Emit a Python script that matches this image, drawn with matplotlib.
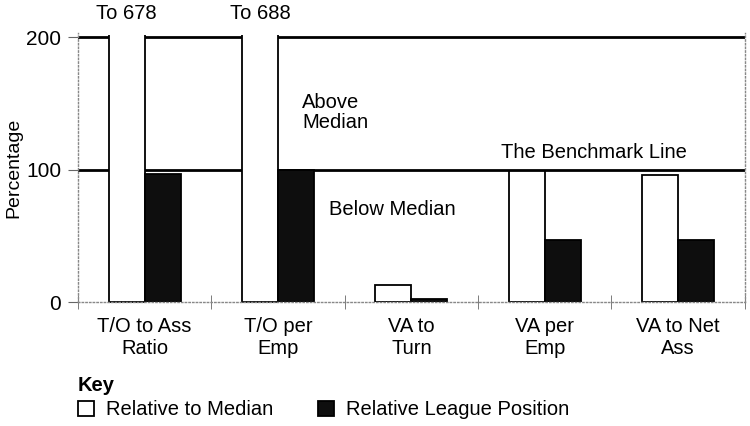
import matplotlib.pyplot as plt
from matplotlib.patches import Rectangle
import numpy as np

plt.rcParams['font.family'] = ['Liberation Sans', 'DejaVu Sans']

categories = ['T/O to Ass\nRatio', 'T/O per\nEmp', 'VA to\nTurn', 'VA per\nEmp', 'VA to Net\nAss']
rel_median = [678, 688, 13, 99, 96]
rel_league = [97, 100, 2, 47, 47]
y_ticks = [0, 100, 200]
y_top = 200

fig = plt.figure(figsize=(7.5, 4.26), dpi=100)
ax = fig.add_axes([0.104, 0.291, 0.889, 0.631])

x = np.arange(len(categories))
w = 0.27

# reference lines sit under the bars so tall white bars break them
ax.axhline(200, color='black', lw=2, zorder=1)
ax.axhline(100, color='black', lw=2, zorder=1)

b1 = ax.bar(x - w, rel_median, width=w, align='edge', color='white',
            edgecolor='black', lw=1.3, zorder=2, label='Relative to Median')
b2 = ax.bar(x, rel_league, width=w, align='edge', color='#0e0e0e',
            edgecolor='black', lw=1.3, zorder=2, label='Relative League Position')

ax.set_xlim(-0.5, len(categories) - 0.5)
ax.set_ylim(0, 203)

# cut off bars that run past the scale just above the 200 line
clip = Rectangle((-0.5, -10), len(categories), y_top + 11.3, transform=ax.transData)
for p, v in zip(b1.patches, rel_median):
    if v > y_top:
        p.set_clip_path(clip)

for i, v in enumerate(rel_median):
    if v > y_top:
        ax.text(x[i] - w / 2, 218, 'To %d' % v, ha='center', va='center',
                fontsize=14.5, clip_on=False)

ax.text(1.18, 143, 'Above\nMedian', ha='left', va='center', fontsize=14.5,
        linespacing=1.05)
ax.text(1.38, 70, 'Below Median', ha='left', va='center', fontsize=14.5)
ax.text(3.37, 113, 'The Benchmark Line', ha='center', va='center', fontsize=14.5)

ax.set_yticks(y_ticks)
ax.set_yticklabels([str(t) for t in y_ticks], fontsize=15)
ax.set_xticks(x)
ax.set_xticklabels(categories, fontsize=14.5, linespacing=1.2)
ax.set_xticks(np.arange(-0.5, len(categories)), minor=True)
ax.tick_params(axis='x', which='major', length=0, pad=11)
ax.tick_params(axis='x', which='minor', length=10, direction='inout', color='#666666')
ax.tick_params(axis='y', length=7, color='#666666', pad=5)
fig.text(0.018, 0.606, 'Percentage', fontsize=14, rotation=90,
         ha='center', va='center')

for s in ['left', 'right', 'bottom']:
    ax.spines[s].set_color('#888888')
    ax.spines[s].set_linestyle(':')
    ax.spines[s].set_linewidth(1)
ax.spines['top'].set_visible(False)

fig.text(0.104, 0.096, 'Key', fontsize=14.5, fontweight='bold', va='center')
leg = fig.legend(handles=[b1, b2], loc='center left', bbox_to_anchor=(0.104, 0.038),
                 ncol=2, frameon=False, fontsize=14.5, handlelength=0.8,
                 handleheight=0.8, handletextpad=0.6, columnspacing=2.2,
                 borderpad=0, borderaxespad=0)

fig.savefig('out.png', dpi=100)
